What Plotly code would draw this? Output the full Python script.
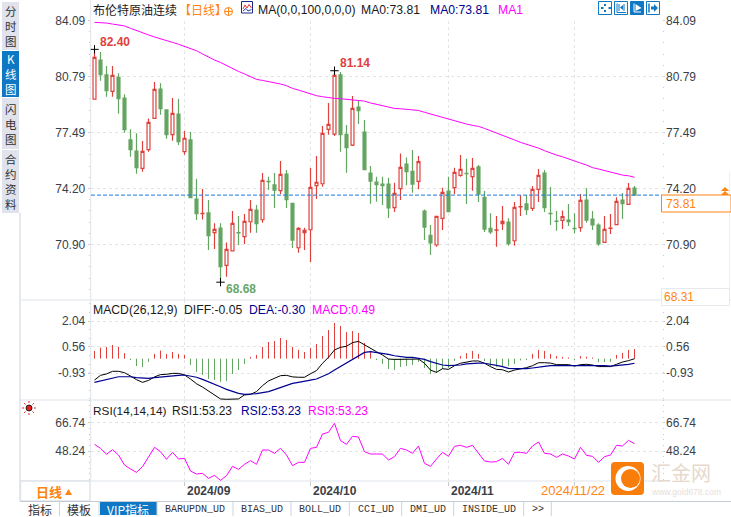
import plotly.graph_objects as go

W, H = 731, 517

# ---------- data ----------
opens = [79.47,81.77,80.89,79.92,80.75,79.53,77.06,76.41,75.39,76.49,78.33,80.06,78.83,77.37,78.59,76.37,77.06,73.58,72.72,72.76,71.60,71.87,69.67,70.53,71.60,71.36,72.24,72.93,72.36,74.62,74.41,74.07,75.05,73.32,70.71,71.60,71.77,74.37,74.48,77.69,77.41,80.89,77.39,76.76,79.00,77.53,75.11,74.58,74.46,74.46,73.07,74.19,75.64,75.21,74.62,72.87,71.44,70.87,72.44,74.05,74.25,74.97,75.09,74.90,75.47,73.68,71.85,71.75,72.13,72.22,71.12,73.11,73.29,73.03,74.15,75.11,72.74,72.28,72.32,72.34,71.85,71.89,73.52,72.40,72.05,71.02,71.85,72.07,73.52,73.27,74.23]
highs = [82.40,82.24,81.42,81.42,80.99,79.75,77.69,77.45,77.00,78.33,80.48,80.40,78.85,79.53,79.47,77.59,77.53,74.76,74.17,73.52,72.15,72.15,71.02,72.87,72.58,72.70,73.52,73.23,75.11,74.90,75.11,75.82,75.29,73.36,71.91,71.89,75.41,76.11,77.88,79.24,81.14,81.06,77.94,79.65,79.37,78.24,75.52,74.90,74.90,74.84,74.54,76.27,76.02,76.47,76.11,72.97,72.05,72.58,74.25,74.90,75.43,76.17,75.96,76.00,75.58,74.05,72.74,72.58,73.17,72.44,73.40,73.80,73.81,74.35,75.35,75.29,74.29,72.87,72.91,73.29,72.74,73.87,74.21,72.87,72.15,72.58,72.70,73.68,73.93,74.52,74.35]
lows = [79.43,80.55,79.61,79.61,78.61,77.49,76.07,75.07,75.19,76.37,78.31,78.55,77.13,77.02,76.76,76.19,73.62,72.34,72.38,70.57,70.63,68.68,69.00,70.53,70.87,70.93,71.60,71.60,72.18,74.11,73.05,73.87,73.05,70.69,70.42,70.57,69.87,73.58,74.31,77.37,77.29,76.37,75.13,76.70,78.00,75.29,73.30,73.42,73.23,72.46,72.81,73.52,74.39,73.95,74.15,71.16,70.28,70.77,71.75,72.81,73.87,74.90,73.29,74.07,73.40,71.63,71.52,70.77,71.75,70.83,70.83,72.58,72.64,72.87,73.40,72.81,72.05,71.71,71.81,71.99,71.56,71.65,72.18,71.75,70.83,71.00,71.52,72.05,72.40,73.27,73.77]
closes = [81.93,80.91,79.96,80.87,79.49,77.67,76.49,75.43,76.39,78.10,80.04,78.90,77.37,78.63,76.96,77.16,73.66,72.72,72.74,71.42,71.79,69.59,70.61,72.15,71.58,72.26,72.97,72.13,74.68,74.60,74.11,75.03,73.54,71.16,71.85,71.73,74.27,74.57,77.45,77.98,80.87,77.37,76.61,78.92,78.79,75.31,74.64,74.42,74.37,73.05,73.91,75.45,75.19,74.46,75.78,71.93,70.99,72.56,73.97,72.83,75.15,75.33,75.07,75.39,73.87,71.81,71.65,71.77,72.26,70.95,73.09,73.13,72.95,74.15,74.97,73.07,72.72,72.26,72.54,72.24,71.83,73.50,72.34,72.05,70.93,71.79,71.87,73.44,73.31,74.21,73.81]
ma1 = [83.99,83.99,83.95,83.89,83.85,83.78,83.64,83.50,83.36,83.25,83.13,83.01,82.91,82.81,82.70,82.58,82.48,82.32,82.13,81.93,81.77,81.63,81.44,81.24,81.10,80.95,80.77,80.63,80.57,80.51,80.44,80.36,80.26,80.10,80.00,79.88,79.75,79.67,79.61,79.55,79.51,79.49,79.45,79.39,79.39,79.35,79.24,79.16,79.04,78.98,78.92,78.90,78.88,78.84,78.80,78.69,78.59,78.47,78.37,78.29,78.20,78.10,78.00,77.92,77.86,77.74,77.61,77.45,77.35,77.23,77.06,76.92,76.82,76.70,76.58,76.43,76.29,76.17,76.07,75.96,75.84,75.70,75.58,75.43,75.35,75.25,75.15,75.05,74.99,74.95,74.86]
macd_hist = [0.44,0.63,0.67,0.78,0.67,0.32,-0.08,-0.42,-0.48,-0.19,0.27,0.46,0.27,0.38,0.27,0.21,-0.36,-0.76,-0.93,-1.16,-1.22,-1.33,-1.28,-0.88,-0.65,-0.30,0.10,0.21,0.67,0.95,1.01,1.18,1.07,0.67,0.50,0.38,0.61,0.84,1.30,1.64,2.04,1.87,1.52,1.58,1.47,0.90,0.44,-0.08,-0.30,-0.59,-0.65,-0.48,-0.42,-0.36,-0.19,-0.53,-0.88,-0.82,-0.59,-0.53,-0.13,0.15,0.32,0.44,0.27,-0.13,-0.42,-0.48,-0.48,-0.42,-0.30,-0.10,-0.08,0.27,0.50,0.44,0.27,0.15,0.10,0.06,-0.08,0.15,0.11,0.06,-0.19,-0.19,-0.19,0.21,0.32,0.50,0.55]
diff_line = [-1.33,-1.06,-0.98,-0.83,-0.83,-0.91,-1.10,-1.31,-1.46,-1.35,-1.15,-1.02,-1.00,-0.95,-0.95,-1.04,-1.27,-1.54,-1.73,-1.97,-2.18,-2.41,-2.43,-2.43,-2.41,-2.18,-2.15,-1.99,-1.65,-1.38,-1.21,-1.08,-1.06,-1.15,-1.17,-1.17,-0.97,-0.79,-0.37,-0.03,0.39,0.54,0.60,0.81,0.88,0.67,0.48,0.29,0.10,-0.13,-0.15,-0.15,-0.13,-0.15,-0.13,-0.37,-0.76,-0.89,-0.68,-0.72,-0.51,-0.37,-0.32,-0.24,-0.24,-0.37,-0.56,-0.72,-0.74,-0.87,-0.76,-0.70,-0.62,-0.51,-0.34,-0.34,-0.36,-0.45,-0.43,-0.45,-0.53,-0.45,-0.43,-0.47,-0.56,-0.58,-0.56,-0.43,-0.30,-0.22,-0.11]
dea_line = [-1.46,-1.37,-1.29,-1.21,-1.14,-1.14,-1.14,-1.19,-1.23,-1.23,-1.19,-1.15,-1.12,-1.08,-1.06,-1.04,-1.10,-1.17,-1.29,-1.42,-1.56,-1.71,-1.86,-1.99,-2.09,-2.15,-2.15,-2.11,-2.05,-1.99,-1.88,-1.77,-1.63,-1.52,-1.46,-1.38,-1.33,-1.27,-1.14,-0.97,-0.76,-0.55,-0.34,-0.15,0.04,0.25,0.29,0.25,0.22,0.14,0.06,0.01,-0.03,-0.03,-0.07,-0.15,-0.28,-0.37,-0.47,-0.51,-0.51,-0.47,-0.41,-0.37,-0.36,-0.37,-0.41,-0.49,-0.56,-0.66,-0.68,-0.70,-0.68,-0.64,-0.58,-0.55,-0.51,-0.51,-0.51,-0.49,-0.49,-0.49,-0.47,-0.47,-0.49,-0.51,-0.53,-0.51,-0.47,-0.43,-0.37]
rsi_line = [52.59,49.98,46.07,49.11,45.63,39.10,36.49,34.32,38.02,44.54,50.64,47.81,42.80,47.37,43.02,43.46,35.19,33.23,33.66,30.40,32.36,29.09,32.14,38.23,36.28,39.54,41.93,39.54,48.90,48.90,46.72,49.98,45.63,38.67,40.84,40.84,49.98,50.64,59.34,60.43,66.30,55.01,52.59,57.82,57.38,47.81,46.28,46.28,46.28,42.37,44.54,49.98,48.90,46.72,51.51,40.19,38.23,43.02,47.37,44.76,51.29,51.94,50.64,51.94,46.72,41.72,41.06,41.28,43.46,39.54,47.37,47.37,46.72,51.51,54.12,46.72,46.28,44.11,46.28,44.98,43.02,50.64,45.42,44.76,40.84,44.54,45.63,51.94,51.51,55.21,53.03]

macd_zero = -0.107          # histogram baseline as read against the printed scale
last_price = 73.81
high_price = 82.40; high_idx = 0
high_price2 = 81.14; high_idx2 = 40
low_price = 68.68; low_idx = 21

price_ticks = [84.09, 80.79, 77.49, 74.20, 70.90]
price_labels = ["84.09", "80.79", "77.49", "74.20", "70.90"]
macd_ticks = [2.04, 0.56, -0.93]
macd_labels = ["2.04", "0.56", "-0.93"]
rsi_ticks = [66.74, 48.24]
rsi_labels = ["66.74", "48.24"]
date_idx = [15, 36, 59, 80]
date_labels = ["2024/09", "2024/10", "2024/11"]
tab_labels = ["指标", "模板", "VIP指标", "BARUPDN_UD", "BIAS_UD", "BOLL_UD", "CCI_UD", "DMI_UD", "INSIDE_UD", ">>"]
tab_edges = [20, 59.5, 99, 157, 233, 291, 349.3, 401.7, 453.7, 523.7, 551.3]

xs = list(range(len(closes)))

# ---------- colours ----------
RED = "#e0403c"; GREEN = "#65a562"; MAG = "#ff00ff"; NAVY = "#00008f"; BLUE = "#0e78c4"
ORANGE = "#ff8412"; GRID = "#e4e4e4"; EDGE = "#dfe4ea"; TXT = "#3a4048"

def px(x): return x / W
def py(y): return 1 - y / H

fig = go.Figure()
fig.add_trace(go.Candlestick(
    x=xs, open=opens, high=highs, low=lows, close=closes, xaxis="x", yaxis="y",
    increasing=dict(line=dict(color=RED, width=1.2), fillcolor="#ffffff"),
    decreasing=dict(line=dict(color=GREEN, width=1.2), fillcolor=GREEN),
    whiskerwidth=0, hoverinfo="skip"))
fig.add_trace(go.Scatter(x=xs, y=ma1, mode="lines", line=dict(color=MAG, width=1), xaxis="x", yaxis="y", hoverinfo="skip"))
fig.add_trace(go.Scatter(x=[high_idx, high_idx2, low_idx], y=[high_price, high_price2, low_price], mode="markers",
                         marker=dict(symbol="cross-thin", size=6, line=dict(color="#000000", width=1)),
                         xaxis="x", yaxis="y", hoverinfo="skip"))

def stems(positive):
    sx, sy = [], []
    for i, v in zip(xs, macd_hist):
        if (v > 0) == positive:
            sx += [i, i, None]
            sy += [macd_zero, macd_zero + v, None]
    return sx, sy
for positive, colour in [(True, RED), (False, GREEN)]:
    sx, sy = stems(positive)
    fig.add_trace(go.Scatter(x=sx, y=sy, mode="lines", line=dict(color=colour, width=1), connectgaps=False,
                             xaxis="x", yaxis="y2", hoverinfo="skip"))
fig.add_trace(go.Scatter(x=xs, y=diff_line, mode="lines", line=dict(color="#000000", width=1), xaxis="x", yaxis="y2", hoverinfo="skip"))
fig.add_trace(go.Scatter(x=xs, y=dea_line, mode="lines", line=dict(color=NAVY, width=1.2), xaxis="x", yaxis="y2", hoverinfo="skip"))
fig.add_trace(go.Scatter(x=xs, y=rsi_line, mode="lines", line=dict(color=MAG, width=1), xaxis="x", yaxis="y3", hoverinfo="skip"))

def yaxis(rng, top, bot, tv, tl, minor_step, minor_start):
    return dict(range=rng, domain=[py(bot), py(top)], tickvals=tv, ticktext=tl, ticks="outside", ticklen=2,
                tickcolor="#c8ccd0", tickfont=dict(family="Liberation Sans", size=12, color=TXT),
                showgrid=True, gridcolor=GRID, griddash="dot", gridwidth=1, zeroline=False, showline=False,
                anchor="x", fixedrange=True, automargin=False, mirror="ticks",
                minor=dict(ticks="outside", ticklen=1, tickcolor="#c8ccd0", dtick=minor_step, tick0=minor_start, showgrid=False))

annotations = []
def label(x, y, text, color=TXT, size=12.2, family="Liberation Sans", anchor="left", bold=False):
    annotations.append(dict(xref="paper", yref="paper", x=px(x), y=py(y), xanchor=anchor, yanchor="middle",
                            text=f"<b>{text}</b>" if bold else text, showarrow=False, align="center" if anchor == "center" else anchor,
                            font=dict(color=color, size=size, family=family), borderpad=0))
def dlabel(x_val, y_val, yref, text, color, size=12, bold=False, xanchor="left", xshift=0, yshift=0):
    annotations.append(dict(xref="x", yref=yref, x=x_val, y=y_val, xanchor=xanchor, yanchor="middle",
                            xshift=xshift, yshift=yshift, text=f"<b>{text}</b>" if bold else text, showarrow=False,
                            font=dict(color=color, size=size, family="Liberation Sans"), borderpad=0))
def rlabel(y_val, yref, text):
    annotations.append(dict(xref="paper", yref=yref, x=px(664.5), y=y_val, xanchor="left", yanchor="middle",
                            text=text, showarrow=False, font=dict(color=TXT, size=12, family="Liberation Sans"), borderpad=0))

for v, t in zip(price_ticks, price_labels): rlabel(v, "y", t)
for v, t in zip(macd_ticks, macd_labels): rlabel(v, "y2", t)
for v, t in zip(rsi_ticks, rsi_labels): rlabel(v, "y3", t)

CJK = "Noto Sans CJK SC"
# header row
label(92, 10, "布伦特原油连续", "#1a1a1a", 12, CJK)
label(178, 10, "【日线】", ORANGE, 12, CJK)
label(256.7, 10, "MA(0,0,100,0,0,0)", "#1a1a1a")
label(360, 10, "MA0:73.81", "#1a1a1a")
label(429, 10, "MA0:73.81", NAVY)
label(497.3, 10, "MA1", MAG)
label(92.3, 309.5, "MACD(26,12,9)", "#1a1a1a")
label(183, 309.5, "DIFF:-0.05", "#1a1a1a")
label(248, 309.5, "DEA:-0.30", NAVY)
label(311, 309.5, "MACD:0.49", MAG)
label(92.3, 410.5, "RSI(14,14,14)", "#1a1a1a", 11.8)
label(171.3, 410.5, "RSI1:53.23", "#1a1a1a", 12)
label(240, 410.5, "RSI2:53.23", NAVY, 12)
label(307.3, 410.5, "RSI3:53.23", MAG, 12)

# extreme labels
dlabel(high_idx, high_price, "y", "82.40", RED, 12, True, xshift=4, yshift=7)
dlabel(high_idx2, high_price2, "y", "81.14", RED, 12, True, xshift=4, yshift=8)
dlabel(low_idx, low_price, "y", "68.68", "#6aa66a", 12, True, xshift=4, yshift=-7)

# sidebar
tabs = [("分时图", 2, 50), ("K线图", 51, 97), ("闪电图", 98, 149), ("合约资料", 150, 213)]
shapes = []
def rect(x0, y0, x1, y1, fill=None, line=None, lw=1, layer="below"):
    shapes.append(dict(type="rect", xref="paper", yref="paper", x0=px(x0), x1=px(x1), y0=py(y0), y1=py(y1),
                       fillcolor=fill or "rgba(0,0,0,0)", line=dict(color=line or "rgba(0,0,0,0)", width=lw if line else 0), layer=layer))
def hline(x0, x1, y, color=EDGE, lw=1, dash="solid", layer="below"):
    shapes.append(dict(type="line", xref="paper", yref="paper", x0=px(x0), x1=px(x1), y0=py(y), y1=py(y),
                       line=dict(color=color, width=lw, dash=dash), layer=layer))
def vline(x, y0, y1, color=EDGE, lw=1, layer="below"):
    shapes.append(dict(type="line", xref="paper", yref="paper", x0=px(x), x1=px(x), y0=py(y0), y1=py(y1),
                       line=dict(color=color, width=lw), layer=layer))
def path(d, fill=None, line=None, lw=1):
    shapes.append(dict(type="path", xref="paper", yref="paper", path=d,
                       fillcolor=fill or "rgba(0,0,0,0)", line=dict(color=line or "rgba(0,0,0,0)", width=lw if line else 0), layer="above"))
def P(*pts, close=False):
    s = "M " + " L ".join(f"{px(a):.5f},{py(b):.5f}" for a, b in pts)
    return s + (" Z" if close else "")

for name, y0, y1 in tabs:
    active = name.startswith("K")
    rect(2, y0, 19, y1, BLUE if active else "#e0e2ec")
    label(10.5, (y0 + y1) / 2, "<br>".join(name), "#ffffff" if active else "#333333", 11.5, CJK, anchor="center")

# frame lines
vline(20, 213, 501, "#ccd2da")
vline(90.7, 0, 481, EDGE)
hline(20, 731, 300)
hline(20, 731, 400)
hline(20, 662, 481)
vline(729.5, 172, 300, "#eef0f3")

# last price dashed line + boxes
shapes.append(dict(type="line", xref="paper", yref="y", x0=px(91), x1=px(662), y0=last_price, y1=last_price,
                   line=dict(color="#1f78d8", width=1, dash="4px,2px"), layer="above"))
rect(661.5, 195, 731, 212, "#ffffff", ORANGE, 1, "above")
label(664.5, 204, "73.81", ORANGE, 12)
rect(661.5, 288.5, 729.5, 305.5, "#ffffff", "#e6eaee", 1, "above")
label(663, 297, "68.31", ORANGE, 12)
path(P((720.8, 191), (725, 187), (729.2, 191), close=True), ORANGE)
path(P((720.8, 195), (725, 191), (729.2, 195), close=True), ORANGE)

# toolbar icons
for i, x0 in enumerate([598.5, 614.5, 630.5, 646.5]):
    rect(x0, 1.5, x0 + 13, 14.5, BLUE if i == 2 else "#ffffff", BLUE, 1, "above")
path(P((601,8),(603.5,8))+" "+P((608.5,8),(611,8))+" "+P((605,4),(605,6))+" "+P((605,10),(605,12)), None, BLUE, 2)
path(P((617,3.5),(617,12.5),(626,12.5)), None, BLUE, 1)
path(P((619,4),(619,11))+" "+P((624,4),(624,11)), None, BLUE, 1)
path(P((620,7.5),(623,5),(623,10), close=True), BLUE)
path(P((634,3.5),(634,12),(641,12)), None, "#ffffff", 1)
path(P((635.5,4),(641.5,8),(635.5,11), close=True), "#ffffff")
path(P((649,3.5),(649,12.5)), None, BLUE, 1.5)
path(P((651,6.5),(654,6.5),(654,4),(658,8),(654,12),(654,9.5),(651,9.5), close=True), BLUE)

# plus-circle and MA icon
shapes.append(dict(type="circle", xref="paper", yref="paper", x0=px(224.5), x1=px(232.5), y0=py(15.5), y1=py(7.5),
                   line=dict(color=ORANGE, width=1), layer="above"))
path(P((224.5,11.5),(232.5,11.5))+" "+P((228.5,7.5),(228.5,15.5)), None, ORANGE, 1)
rect(241.5, 1.5, 252.5, 13, "#ffffff", "#1a2a8a", 1, "above")
path(P((243,9),(245,5),(247,8),(249,4.5),(251.5,8)), None, "#e03030", 1)
path(P((243,11),(246,8.5),(248,11),(251.5,9.5)), None, "#2040c0", 1)

# sun icon of the RSI panel
shapes.append(dict(type="circle", xref="paper", yref="paper", x0=px(26), x1=px(32), y0=py(411), y1=py(405),
                   fillcolor="#e02020", line=dict(color="#222222", width=1), layer="above"))
path(" ".join(P((29+a*5, 408+b*5), (29+a*7, 408+b*7)) for a, b in
              [(1,0),(-1,0),(0,1),(0,-1),(.7,.7),(-.7,.7),(.7,-.7),(-.7,-.7)]), None, "#e02020", 1)

# bottom bar
rect(20.5, 481, 90, 501, "#ffffff", EDGE, 1.5)
label(35, 491.5, "日线", ORANGE, 13, CJK, bold=True)
path(P((65,495),(68.5,489),(72,495), close=True), ORANGE)
hline(20, 731, 501.5, "#c4ccd6", 1)
rect(100, 502, 157, 515, BLUE)
for i, t in enumerate(tab_labels):
    cx = (tab_edges[i] + tab_edges[i + 1]) / 2
    vip = t.startswith("VIP")
    mono = t.isascii()
    label(cx, 509, t, "#ffffff" if vip else "#333333", 10 if mono else 12,
          "Liberation Mono" if mono else CJK, anchor="center")
for x in tab_edges[1:]:
    vline(x, 502, 516, "#ccd2da")

# x labels
for i, t in zip(date_idx, date_labels):
    label(94.5 + 6 * i + 1.5, 490.5, t, "#3a4048", 12, bold=True)
label(540, 490.5, "2024/11/22", ORANGE, 13)

# watermark
def rounded(x0, y0, x1, y1, r):
    pts = [f"M {px(x0+r):.5f},{py(y0):.5f}", f"L {px(x1-r):.5f},{py(y0):.5f}",
           f"Q {px(x1):.5f},{py(y0):.5f} {px(x1):.5f},{py(y0+r):.5f}", f"L {px(x1):.5f},{py(y1-r):.5f}",
           f"Q {px(x1):.5f},{py(y1):.5f} {px(x1-r):.5f},{py(y1):.5f}", f"L {px(x0+r):.5f},{py(y1):.5f}",
           f"Q {px(x0):.5f},{py(y1):.5f} {px(x0):.5f},{py(y1-r):.5f}", f"L {px(x0):.5f},{py(y0+r):.5f}",
           f"Q {px(x0):.5f},{py(y0):.5f} {px(x0+r):.5f},{py(y0):.5f}", "Z"]
    return " ".join(pts)
path(rounded(611, 462, 644, 495, 4), "#f97d0b")
shapes.append(dict(type="circle", xref="paper", yref="paper", x0=px(615.5), x1=px(640.5), y0=py(491), y1=py(466),
                   fillcolor="#ffffff", line=dict(width=0), layer="above"))
shapes.append(dict(type="circle", xref="paper", yref="paper", x0=px(621), x1=px(640), y0=py(488), y1=py(469),
                   fillcolor="#f97d0b", line=dict(width=0), layer="above"))
label(650, 472.5, "汇金网", "#e6d8cc", 20, CJK)
label(650, 491.5, "www.gold678.com", "#e6e0da", 8.5)

fig.update_layout(
    template="none", width=W, height=H, autosize=False, margin=dict(l=0, r=0, t=0, b=0, pad=0),
    paper_bgcolor="#ffffff", plot_bgcolor="#ffffff",
    showlegend=False, boxgap=0.3, dragmode=False, hovermode=False,
    xaxis=dict(domain=[px(90.7), px(662)], range=[-0.633, 94.583], anchor="y3", tickvals=date_idx, showticklabels=False,
               ticks="outside", ticklen=4, tickcolor="#c8ccd0", showgrid=True, gridcolor=GRID, griddash="dot",
               zeroline=False, showline=False, rangeslider=dict(visible=False), fixedrange=True, automargin=False),
    yaxis=yaxis([67.63, 84.09], 20.67, 300, price_ticks, price_labels, 0.66, 70.90),
    yaxis2=yaxis([-2.47, 3.245], 300, 400, macd_ticks, macd_labels, 0.495, 0.56),
    yaxis3=yaxis([28.66, 81.54], 400, 481, rsi_ticks, rsi_labels, 3.7, 48.24),
    shapes=shapes, annotations=annotations,
)

fig.write_html("out.html", config=dict(displayModeBar=False),
               post_script="document.body.style.margin='0';document.body.style.overflow='hidden';")
